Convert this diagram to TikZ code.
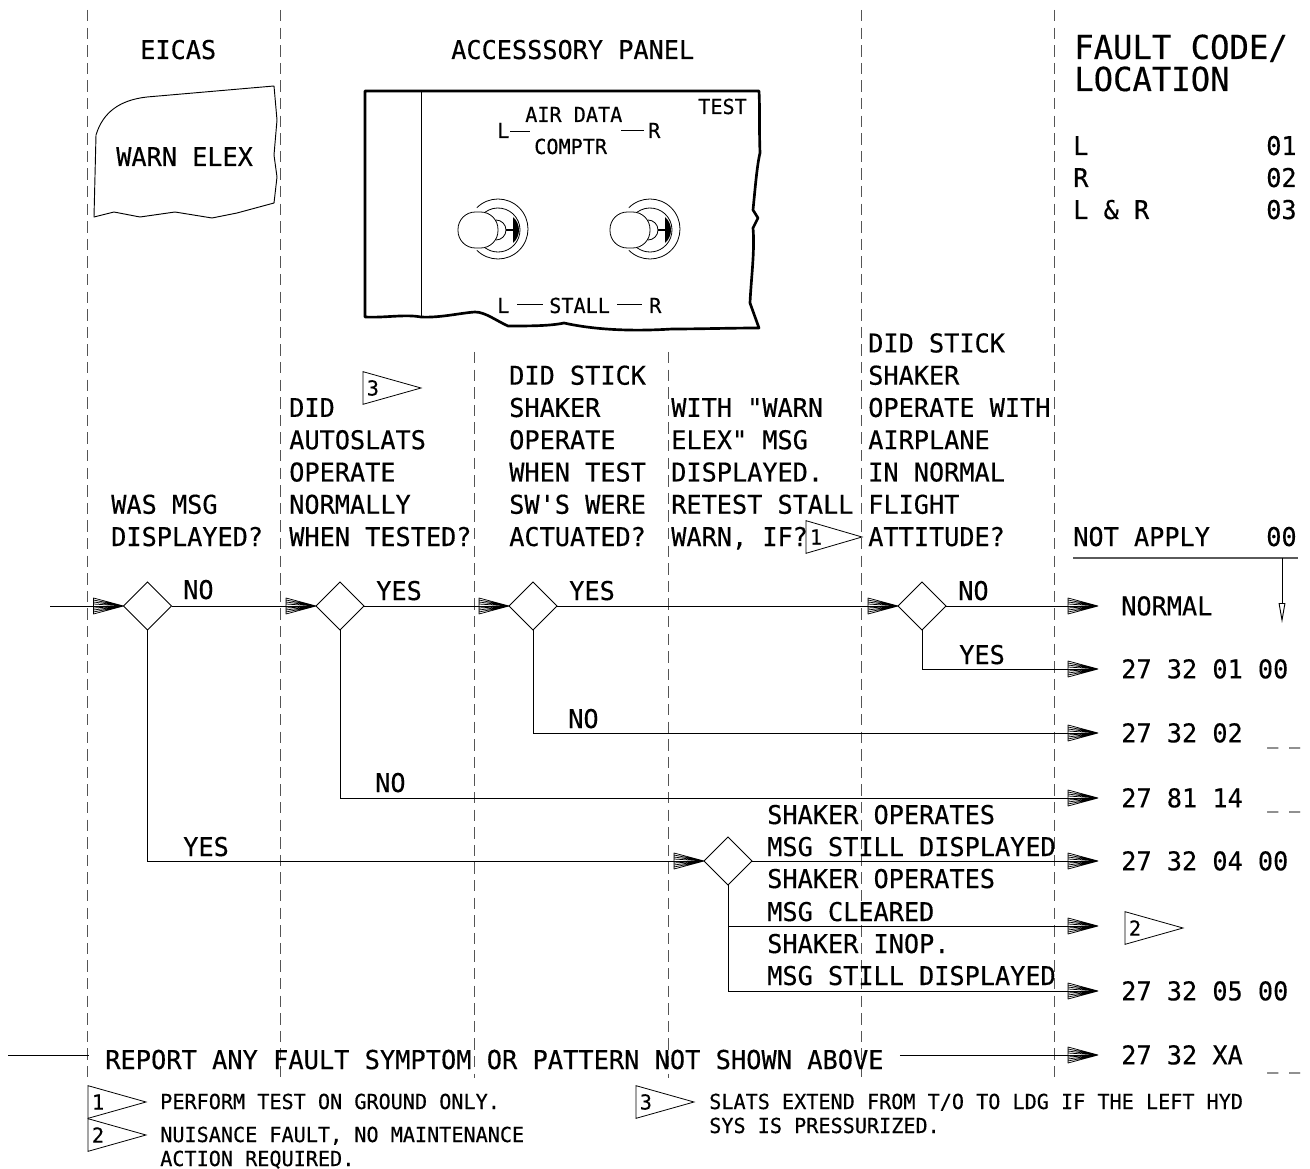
\documentclass[tikz,border=0pt]{standalone}
\usepackage{fontspec}
\setmainfont[FakeStretch=0.975,FakeBold=0.35,Ligatures=TeXOff]{DejaVu Sans Mono}
\usetikzlibrary{arrows.meta,shapes.geometric}
\definecolor{Rule}{HTML}{5A5A5A}
\definecolor{Divider}{HTML}{555555}
\newcommand{\bodyfont}{\fontsize{19.4}{24.2}\selectfont}
\newcommand{\reportfont}{\fontsize{19.5}{24.2}\selectfont}
\newcommand{\smallfont}{\fontsize{15.5}{18}\selectfont}
\newcommand{\blankfont}{\fontsize{14}{18}\selectfont}
\newcommand{\titlefont}{\fontsize{24.8}{24.2}\selectfont}
\pgfdeclarearrow{
  name=Fan,
  setup code={\pgfarrowssettipend{0pt}\pgfarrowssetlineend{-2pt}\pgfarrowssetvisualtipend{0pt}\pgfarrowssetbackend{-22.5pt}\pgfarrowssetvisualbackend{-22.5pt}},
  drawing code={
    \pgfsetlinewidth{0.55pt}\pgfsetroundjoin\pgfsetroundcap
    \pgfpathmoveto{\pgfqpoint{-22.5pt}{-6pt}}\pgfpathlineto{\pgfqpoint{-22.5pt}{6pt}}
    \pgfpathlineto{\pgfqpoint{0pt}{0pt}}\pgfpathlineto{\pgfqpoint{-22.5pt}{-6pt}}
    \pgfpathmoveto{\pgfqpoint{-22.5pt}{4.5pt}}\pgfpathlineto{\pgfqpoint{0pt}{0pt}}
    \pgfpathmoveto{\pgfqpoint{-22.5pt}{3pt}}\pgfpathlineto{\pgfqpoint{0pt}{0pt}}
    \pgfpathmoveto{\pgfqpoint{-22.5pt}{1.5pt}}\pgfpathlineto{\pgfqpoint{0pt}{0pt}}
    \pgfpathmoveto{\pgfqpoint{-22.5pt}{-1.5pt}}\pgfpathlineto{\pgfqpoint{0pt}{0pt}}
    \pgfpathmoveto{\pgfqpoint{-22.5pt}{-3pt}}\pgfpathlineto{\pgfqpoint{0pt}{0pt}}
    \pgfpathmoveto{\pgfqpoint{-22.5pt}{-4.5pt}}\pgfpathlineto{\pgfqpoint{0pt}{0pt}}
    \pgfusepathqstroke
  }
}

\begin{document}
\begin{tikzpicture}[
  x=0.75pt,y=-0.75pt,
  txt/.style={anchor=base west,inner sep=0pt,align=left,font=\bodyfont},
  small/.style={anchor=base west,inner sep=0pt,align=left,font=\smallfont},
  title/.style={anchor=base west,inner sep=0pt,align=left,font=\titlefont},
  code/.style={anchor=west,inner xsep=17.25pt,inner ysep=0pt,text height=14pt,text depth=0pt,font=\bodyfont},
  blank/.style={anchor=base west,inner sep=0pt,font=\blankfont},
  dec/.style={diamond,draw,line width=0.7pt,minimum width=36pt,minimum height=36pt,inner sep=0pt,outer sep=0pt},
  flag/.style={isosceles triangle,isosceles triangle stretches=true,shape border rotate=0,draw,line width=0.6pt,minimum height=43.5pt,minimum width=24.5pt,inner sep=0pt,outer sep=0pt,anchor=lower side,font=\smallfont},
  flow/.style={-Fan,line width=0.7pt},
  divider/.style={draw=Divider,line width=0.6pt,dash pattern=on 8.6pt off 4.6pt},
  panel/.style={line width=2pt,line join=round},
  thin line/.style={line width=0.6pt}
]
\useasboundingbox (0,0) rectangle (1310,1169);
% column dividers
\foreach \x/\y in {87/10,280/10,474/352,668/352,861/10,1054/10}
  \draw[divider] (\x,\y) -- (\x,1078);
% column heads
\node[txt] (eicas) at (140,59) {EICAS};
\node[txt] (accessory) at (451,59) {ACCESSSORY PANEL};
\node[title] (fault) at (1074,59) {FAULT CODE/};
\node[title] (location) at (1074,91) {LOCATION};
\node[txt] (locl) at (1073,155) {L};
\node[txt] (loc01) at (1266,155) {01};
\node[txt] (locr) at (1073,187) {R};
\node[txt] (loc02) at (1266,187) {02};
\node[txt] (loclr) at (1073,219) {L \& R};
\node[txt] (loc03) at (1266,219) {03};
% EICAS message
\draw[line width=0.7pt,line join=round] (94,217) -- (96,135) .. controls (103,112) and (120,100) .. (147,97)
  -- (274,86) -- (277,120) -- (274,155) -- (277,177) -- (274,203) -- (237,213) -- (212,218)
  -- (175,212) -- (140,217) -- (114,212) -- cycle;
\node[txt] (warn) at (116,166) {WARN ELEX};
% accessory panel
\draw[panel] (365,91) -- (759,91) .. controls (760,110) and (759,125) .. (760,153)
  .. controls (757,165) and (755,190) .. (753,210) -- (758,218) -- (753,228)
  .. controls (755,250) and (751,280) .. (750,303) -- (759,328)
  .. controls (730,328) and (700,329) .. (672,329) .. controls (640,331) and (600,331) .. (564,323)
  .. controls (550,326) and (530,326) .. (508,326) .. controls (495,320) and (485,312) .. (475,312)
  .. controls (460,313) and (440,318) .. (421,317) .. controls (405,314) and (385,318) .. (365,317) -- cycle;
\draw[thin line] (421,92) -- (421,317);
\node[small] (paneltest) at (698,114) {TEST};
\node[small] (airdata) at (525,122) {AIR DATA};
\node[small] (comptr) at (534,154) {COMPTR};
\node[small] (topl) at (497,138) {L};
\node[small] (topr) at (648,138) {R};
\node[small] (stall) at (549,313) {STALL};
\node[small] (lowl) at (497,313) {L};
\node[small] (lowr) at (649,313) {R};
\draw[thin line] (510,131) -- (530,131);
\draw[thin line] (621,130) -- (644,130);
\draw[thin line] (517,304) -- (543,304);
\draw[thin line] (617,304) -- (642,304);
% toggle switches
\foreach \x in {0,152}
{
  \begin{scope}[shift={(\x,0)}]
  \draw[thin line] (498,229) ++(-135:30) arc (-135:135:30);
  \draw[thin line] (498,230) ++(-126:22) arc (-126:126:22);
  \draw[thin line] (496,230) ++(-90:10) arc (-90:90:10);
  \draw[line width=1.4pt] (506,230) -- (514,230);
  \fill (513,217) .. controls (521,224) and (521,236) .. (513,243) -- cycle;
  \draw[thin line,fill=white,rounded corners=13pt] (458,212) rectangle (498,248);
  \end{scope}
}
% questions
\node[txt] (q1) at (111,546) {WAS MSG\\DISPLAYED?};
\node[txt] (q2) at (289,546) {DID\\AUTOSLATS\\OPERATE\\NORMALLY\\WHEN TESTED?};
\node[txt] (q3) at (509,546) {DID STICK\\SHAKER\\OPERATE\\WHEN TEST\\SW'S WERE\\ACTUATED?};
\node[txt] (q4) at (671,546) {WITH "WARN\\ELEX" MSG\\DISPLAYED.\\RETEST STALL\\WARN, IF?};
\node[txt] (q5) at (868,546) {DID STICK\\SHAKER\\OPERATE WITH\\AIRPLANE\\IN NORMAL\\FLIGHT\\ATTITUDE?};
\node[flag] (flag3) at (363,388) {3};
\node[flag,minimum height=42pt] (flag1) at (806,537) {1};
% fault code rule
\node[txt] (notapply) at (1073,546) {NOT APPLY};
\node[txt] (notapplyc) at (1266,546) {00};
\coordinate (rulel) at (1073,558);
\coordinate (ruler) at (1298,558);
\coordinate (ruledrop) at (1282,558);
\coordinate (dropend) at (1282,623);
\draw[draw=Rule,line width=1.2pt] (rulel) -- (ruler);
\draw[-{Triangle[open,length=15pt,width=5pt]},line width=0.7pt] (ruledrop) -- (dropend);
% decisions
\coordinate (start) at (50,606);
\node[dec] (d1) at (147.5,606) {};
\node[dec] (d2) at (340,606) {};
\node[dec] (d3) at (533,606) {};
\node[dec] (d4) at (922,606) {};
\node[dec] (d5) at (728,861) {};
% results
\node[code] (normal) at (1098,606) {NORMAL};
\node[code] (c01) at (1098,669) {27 32 01 00};
\node[code] (c02) at (1098,733) {27 32 02};
\node[code] (c14) at (1098,798) {27 81 14};
\node[code] (c04) at (1098,861) {27 32 04 00};
\coordinate (cflag) at (1098,926);
\node[code] (c05) at (1098,991) {27 32 05 00};
\node[code] (cxa) at (1098,1055) {27 32 XA};
\node[flag] (flag2) at (1125,928) {2};
\node[blank] (b02) at (1267,744) {\_ \_};
\node[blank] (b14) at (1267,808) {\_ \_};
\node[blank] (bxa) at (1267,1069) {\_ \_};
% report line
\coordinate (repstart) at (8,1055);
\node[txt,font=\reportfont,inner xsep=12pt] (report) at (89,1069) {REPORT ANY FAULT SYMPTOM OR PATTERN NOT SHOWN ABOVE};
% connectors
\draw[flow] (start) -- (d1.west);
\draw[flow] (d1.east) -- (d2.west);
\draw[flow] (d2.east) -- (d3.west);
\draw[flow] (d3.east) -- (d4.west);
\draw[flow] (d4.east) -- (normal.west);
\draw[flow] (d4.south) |- (c01.west);
\draw[flow] (d3.south) |- (c02.west);
\draw[flow] (d2.south) |- (c14.west);
\draw[flow] (d1.south) |- (d5.west);
\draw[flow] (d5.east) -- (c04.west);
\draw[flow] (d5.south) |- (cflag);
\draw[flow] (d5.south) |- (c05.west);
\draw[line width=0.7pt] (repstart) -- (report.west |- repstart);
\draw[flow] (report.east |- cxa.west) -- (cxa.west);
% branch labels
\node[txt] (no1) at (183,599) {NO};
\node[txt] (yes2) at (376,600) {YES};
\node[txt] (yes3) at (569,600) {YES};
\node[txt] (no4) at (958,600) {NO};
\node[txt] (yes4) at (959,664) {YES};
\node[txt] (no3) at (568,728) {NO};
\node[txt] (no2) at (375,792) {NO};
\node[txt] (yes1) at (183,856) {YES};
\node[txt] (s1) at (767,824) {SHAKER OPERATES};
\node[txt] (s2) at (767,856) {MSG STILL DISPLAYED};
\node[txt] (s3) at (767,888) {SHAKER OPERATES};
\node[txt] (s4) at (767,921) {MSG CLEARED};
\node[txt] (s5) at (767,953) {SHAKER INOP.};
\node[txt] (s6) at (767,985) {MSG STILL DISPLAYED};
% notes
\node[flag] (note1) at (88,1102) {1};
\node[flag] (note2) at (88,1135) {2};
\node[flag] (note3) at (636,1102) {3};
\node[small] (n1) at (160,1109) {PERFORM TEST ON GROUND ONLY.};
\node[small] (n2) at (160,1142) {NUISANCE FAULT, NO MAINTENANCE};
\node[small] (n2b) at (160,1166) {ACTION REQUIRED.};
\node[small] (n3) at (709,1109) {SLATS EXTEND FROM T/O TO LDG IF THE LEFT HYD};
\node[small] (n3b) at (709,1133) {SYS IS PRESSURIZED.};
\end{tikzpicture}
\end{document}
